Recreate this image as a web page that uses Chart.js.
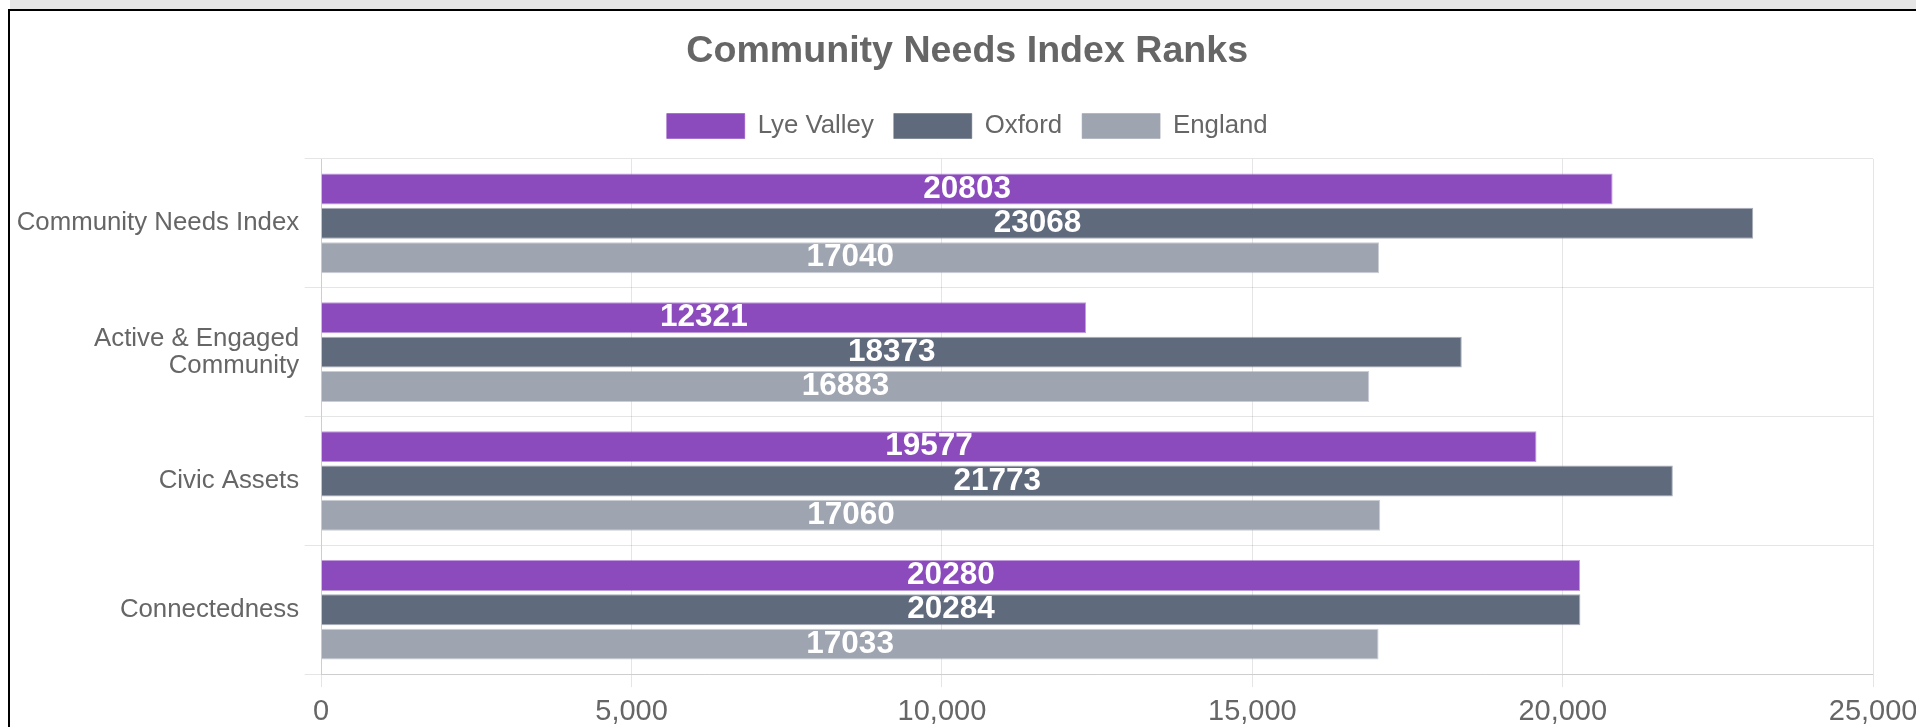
<!DOCTYPE html>
<html>
<head>
<meta charset="utf-8">
<script src="https://cdn.jsdelivr.net/npm/chart.js@4.4.1/dist/chart.umd.min.js"></script>
<style>
  html, body { margin: 0; padding: 0; background: #ffffff; overflow: hidden; width: 1916px; height: 727px; }
  #topbar { position: absolute; left: 10px; top: 0; width: 1906px; height: 9px; background: #e5e5e5; }
  #frame { position: absolute; left: 8px; top: 9px; width: 2000px; height: 800px; border-left: 2px solid #000; border-top: 2px solid #000; background: #fff; }
  #c { display: block; }
</style>
</head>
<body>
<div id="topbar"></div>
<div id="frame"><canvas id="c" width="1915" height="735"></canvas></div>
<script>
// ---- data ----
const categories = ["Community Needs Index", ["Active & Engaged", "Community"], "Civic Assets", "Connectedness"];
const seriesNames = ["Lye Valley", "Oxford", "England"];
const lyeValley = [20803, 12321, 19577, 20280];
const oxford    = [23068, 18373, 21773, 20284];
const england   = [17040, 16883, 17060, 17033];
const xTickValues = [0, 5000, 10000, 15000, 20000, 25000];
const chartTitle = "Community Needs Index Ranks";

// ---- styles ----
const FONT = "'Liberation Sans', Arial, Helvetica, sans-serif";
const fills   = ["#8c4bbd", "#5f6a7d", "#9ea4b0"];
const borders = ["rgba(140,75,189,0.55)", "rgba(95,106,125,0.55)", "rgba(158,164,176,0.55)"];
const seriesValues = [lyeValley, oxford, england];

const valueLabels = {
  id: 'valueLabels',
  afterDatasetsDraw(chart) {
    const ctx = chart.ctx;
    ctx.save();
    ctx.font = "bold 31.5px " + FONT;
    ctx.fillStyle = "#ffffff";
    ctx.textAlign = "center";
    ctx.textBaseline = "middle";
    chart.data.datasets.forEach((ds, di) => {
      const meta = chart.getDatasetMeta(di);
      meta.data.forEach((el, i) => {
        const cx = (el.x + el.base) / 2;
        ctx.fillText(String(ds.data[i]), cx, el.y);
      });
    });
    ctx.restore();
  }
};

const legendGap = {
  id: 'legendGap',
  beforeInit(chart) {
    const origFit = chart.legend.fit;
    chart.legend.fit = function () {
      origFit.bind(chart.legend)();
      this.height += 10;
    };
  }
};

new Chart(document.getElementById('c'), {
  type: 'bar',
  data: {
    labels: categories,
    datasets: seriesNames.map((name, i) => ({
      label: name,
      data: seriesValues[i],
      backgroundColor: fills[i],
      borderColor: borders[i],
      borderWidth: 1,
      categoryPercentage: 0.8,
      barPercentage: 0.9
    }))
  },
  options: {
    indexAxis: 'y',
    responsive: false,
    animation: false,
    devicePixelRatio: 1,
    layout: { padding: { left: 1.2, right: 1.8, top: 8, bottom: 9 } },
    plugins: {
      title: {
        display: true,
        text: chartTitle,
        color: '#666666',
        font: { family: FONT, size: 37.6, weight: 'bold' },
        padding: { top: 10, bottom: 19 }
      },
      legend: {
        display: true,
        position: 'top',
        labels: {
          color: '#666666',
          font: { family: FONT, size: 25.8 },
          boxWidth: 78,
          boxHeight: 25,
          padding: 20
        }
      },
      tooltip: { enabled: false }
    },
    scales: {
      x: {
        min: 0,
        max: 25000,
        afterBuildTicks(scale) { scale.ticks = xTickValues.map(v => ({ value: v })); },
        grid: { color: 'rgba(0,0,0,0.1)', tickLength: 13 },
        border: { color: 'rgba(0,0,0,0.1)' },
        ticks: {
          color: '#666666',
          font: { family: FONT, size: 29 },
          padding: 7.5,
          maxRotation: 0,
          callback: (v) => Number(v).toLocaleString('en-US')
        }
      },
      y: {
        grid: { color: 'rgba(0,0,0,0.1)', tickLength: 16.5, offset: true },
        border: { color: 'rgba(0,0,0,0.1)' },
        ticks: {
          color: '#666666',
          font: { family: FONT, size: 25.8, lineHeight: 1.05 },
          padding: 5.5
        }
      }
    }
  },
  plugins: [valueLabels, legendGap]
});
</script>
</body>
</html>
